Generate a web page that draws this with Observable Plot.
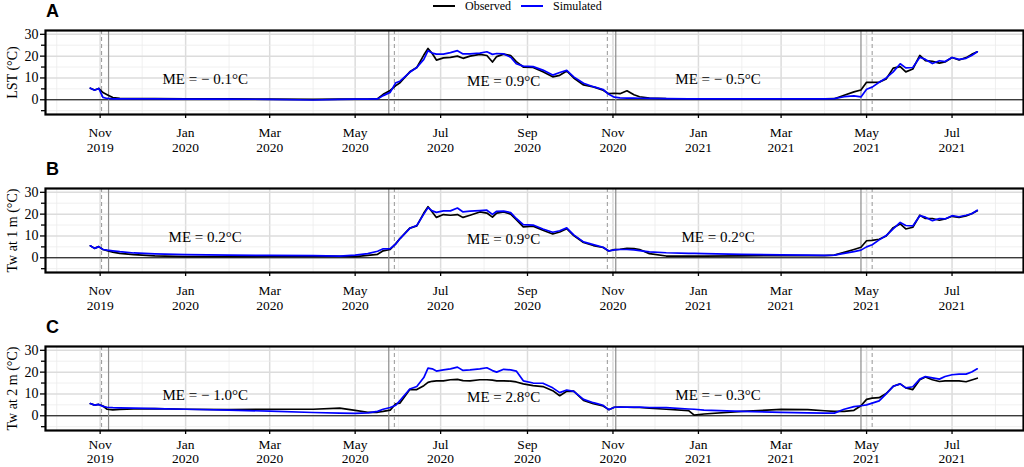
<!DOCTYPE html>
<html><head><meta charset="utf-8">
<script src="https://cdn.jsdelivr.net/npm/d3@7"></script>
<script src="https://cdn.jsdelivr.net/npm/@observablehq/plot@0.6"></script>
<style>
body{margin:0;background:#fff;}
#wrap{position:relative;width:1024px;height:467px;overflow:hidden;font-family:"Liberation Serif","Times New Roman",serif;color:#000;}
.lab{position:absolute;left:46px;font-family:"Liberation Sans",Arial,sans-serif;font-weight:bold;font-size:18px;line-height:18px;}
.panel{position:absolute;left:0;}
.leg{position:absolute;top:0;font-size:12px;line-height:12px;}
.legline{position:absolute;top:5px;height:2px;width:22px;}
</style></head><body><div id="wrap">
<div class="legline" style="left:433px;background:#000"></div>
<div class="leg" style="left:465px">Observed</div>
<div class="legline" style="left:521px;background:#0000ff"></div>
<div class="leg" style="left:553px">Simulated</div>
</div>
<script>
const dates = ["2019-10-25","2019-10-28","2019-10-31","2019-11-03","2019-11-06","2019-11-10","2019-11-15","2019-11-25","2019-12-10","2020-01-01",
"2020-02-01","2020-03-01","2020-04-01","2020-04-20","2020-05-01","2020-05-10","2020-05-17","2020-05-21","2020-05-26","2020-05-30",
"2020-06-02","2020-06-09","2020-06-14","2020-06-19","2020-06-22","2020-06-25","2020-06-28","2020-07-03","2020-07-08","2020-07-13",
"2020-07-17","2020-07-22","2020-07-29","2020-08-03","2020-08-07","2020-08-10","2020-08-15","2020-08-20","2020-08-24","2020-08-29",
"2020-09-05","2020-09-12","2020-09-19","2020-09-24","2020-09-29","2020-10-04","2020-10-11","2020-10-18","2020-10-25","2020-10-29",
"2020-11-02","2020-11-06","2020-11-11","2020-11-16","2020-11-20","2020-11-27","2020-12-09","2020-12-25","2020-12-29","2021-01-05",
"2021-02-01","2021-03-01","2021-03-20","2021-04-01","2021-04-08","2021-04-15","2021-04-22","2021-04-27","2021-05-01","2021-05-05",
"2021-05-10","2021-05-15","2021-05-20","2021-05-25","2021-05-29","2021-06-03","2021-06-08","2021-06-12","2021-06-17","2021-06-22",
"2021-06-26","2021-07-01","2021-07-06","2021-07-11","2021-07-15","2021-07-19"];

const obsA = [5.3,4.5,5.2,3.3,2.3,1.0,0.6,0.5,0.5,0.4, 0.4,0.3,0.2,0.3,0.3,0.3,0.5,2.5,4.3,6.5,
7.8,12.8,14.8,20.5,23.5,21.2,18.2,19.2,19.4,20.0, 19.0,20.0,20.8,20.3,17.3,19.8,20.9,20.3,17.5,15.0,
14.8,12.8,10.5,11.2,13.2,10.0,6.8,5.9,4.4,2.8, 3.0,2.8,4.1,2.3,1.4,0.8,0.5,0.4,0.4,0.4,
0.4,0.4,0.4,0.4,0.5,2.1,3.6,4.5,8.0,8.0, 8.1,9.5,14.5,15.2,12.8,14.1,20.3,17.9,17.6,16.8,
17.3,19.4,18.2,19.3,20.8,22.0];
const simA = [5.3,4.4,5.2,1.1,0.6,0.4,0.4,0.4,0.4,0.3, 0.3,0.2,-0.1,0.2,0.3,0.3,0.4,1.9,3.4,7.8,
8.5,12.6,14.8,18.5,22.5,21.4,20.9,20.9,21.6,22.5, 21.0,21.0,21.4,22.0,20.8,21.2,21.0,19.5,16.5,15.4,
15.2,13.6,11.3,12.5,13.5,10.5,7.6,6.0,4.7,2.5, 1.2,0.9,0.8,0.8,0.7,0.6,0.5,0.4,0.4,0.4,
0.4,0.4,0.4,0.4,0.5,1.4,1.8,1.3,4.8,5.8, 8.0,10.0,12.8,16.5,14.6,14.8,19.5,18.5,16.6,17.9,
17.5,19.4,18.5,19.0,20.3,22.0];
const obsB = [5.5,4.3,5.1,3.8,3.3,2.6,2.0,1.4,0.9,0.5, 0.5,0.6,0.8,0.6,0.5,1.1,1.6,3.2,3.8,6.5,
8.8,13.6,14.6,20.5,23.4,21.0,18.5,19.8,19.5,19.8, 18.5,19.5,21.0,20.5,18.6,20.5,21.0,20.0,17.5,14.2,
14.5,12.6,10.9,11.8,13.3,10.2,7.0,5.6,4.7,3.1, 3.7,3.9,4.3,4.2,3.8,1.9,0.8,0.8,0.8,0.8,
0.9,1.0,1.0,1.0,1.2,2.5,3.8,4.8,7.8,8.0, 8.5,10.0,13.8,15.5,13.2,14.0,19.5,18.0,18.0,17.2,
17.8,19.0,18.5,19.2,20.2,21.5];
const simB = [5.5,4.3,5.1,3.8,3.5,3.2,2.8,2.2,1.8,1.4, 1.2,1.1,1.0,0.8,1.2,1.9,3.0,4.1,4.2,6.3,
8.8,13.5,14.8,20.0,23.0,21.5,20.8,21.5,21.5,22.8, 21.0,21.4,21.6,21.8,19.9,21.3,21.4,20.7,18.0,15.2,
15.0,13.2,11.7,12.4,13.7,10.5,7.3,6.0,4.8,3.1, 3.6,3.8,3.8,3.6,3.3,2.7,2.3,2.0,2.0,1.9,
1.6,1.3,1.2,1.1,1.2,2.0,2.8,3.5,5.0,6.0, 8.2,10.2,13.2,16.2,14.8,14.6,19.3,18.6,17.0,18.0,
17.8,19.3,18.8,19.5,20.2,21.8];
const obsC = [5.6,4.9,5.2,4.5,3.0,2.7,2.9,3.2,3.3,3.0, 2.8,3.0,3.0,3.5,2.5,1.6,1.6,2.0,2.6,5.5,
5.8,12.0,12.0,13.8,15.3,15.8,16.0,16.0,16.5,16.7, 16.1,16.0,16.5,16.5,16.3,16.0,16.0,15.9,15.5,14.6,
13.8,13.4,11.5,9.2,11.2,11.3,7.0,5.5,4.5,2.8, 3.9,4.0,3.9,3.8,3.8,3.5,3.0,2.4,0.3,0.8,
2.0,2.9,2.8,2.3,2.0,2.0,2.5,4.6,7.5,8.1, 8.3,10.2,13.5,14.6,12.8,12.0,16.5,17.8,16.5,15.7,
16.0,16.0,16.0,15.6,16.4,17.2];
const simC = [5.6,4.9,5.2,4.3,3.9,3.7,3.6,3.5,3.3,3.0, 2.6,2.1,1.5,1.2,1.1,1.3,2.0,3.0,3.8,4.8,
7.0,12.3,13.4,17.5,21.8,21.5,20.5,21.0,21.5,22.3, 20.8,21.0,21.5,22.0,20.7,20.0,21.3,21.0,20.5,16.0,
15.0,14.9,12.8,10.6,11.8,11.2,7.5,6.0,4.8,2.8, 3.9,4.0,4.0,4.0,4.0,3.8,3.7,3.1,3.0,2.6,
2.0,1.6,1.3,1.2,1.2,3.0,4.2,4.6,5.0,5.8, 6.8,10.0,13.5,14.6,12.8,13.3,16.8,18.0,17.4,16.8,
18.0,18.8,19.1,19.1,20.1,21.5];

const panelKeys = ["A","B","C"];
const yTitles = ["LST (°C)","Tw at 1 m (°C)","Tw at 2 m (°C)"];
const meLabels = [["ME = − 0.1°C","ME = 0.9°C","ME = − 0.5°C"],
                  ["ME = 0.2°C","ME = 0.9°C","ME = 0.2°C"],
                  ["ME = − 1.0°C","ME = 2.8°C","ME = − 0.3°C"]];
const meDates = ["2020-01-15","2020-08-15","2021-01-15"];
const meY = [9.5, 8.5, 9.5];
const iceSolid = ["2019-11-07","2020-05-25","2020-11-03","2021-04-27"];
const iceDashed = ["2019-11-02","2020-05-29","2020-10-28","2021-05-05"];
const majorTicks = ["2019-11-01","2020-01-01","2020-03-01","2020-05-01","2020-07-01","2020-09-01","2020-11-01","2021-01-01","2021-03-01","2021-05-01","2021-07-01"];
const minorTicks = ["2019-10-01","2019-12-01","2020-02-01","2020-04-01","2020-06-01","2020-08-01","2020-10-01","2020-12-01","2021-02-01","2021-04-01","2021-06-01","2021-08-01"];
const yMajor = [0,10,20,30];
const yMinor = [-5,5,15,25];
const xDomain = ["2019-09-23","2021-08-21"];
const yDomain = [-6.75, 31.75];

const series = [[obsA,simA],[obsB,simB],[obsC,simC]];
const tops = [22, 180, 338];
const heights = [128, 128, 129];
const bottoms = [36, 36, 37];
const pads = [8, 8, 5];
const lineHs = [1.1, 1.1, 1.02];
const labTops = [2, 160, 318];

const wrap = document.getElementById("wrap");
const D = s => new Date(s);
const fmt = d3.utcFormat("%b\n%Y");

panelKeys.forEach((key, p) => {
  const [obs, sim] = series[p];
  const rows = (arr) => dates.map((d,i) => ({date: D(d), v: arr[i]}));
  const me = meLabels[p].map((t,i) => ({date: D(meDates[i]), y: meY[i], t}));
  const chart = Plot.plot({
    width: 1024, height: heights[p],
    marginLeft: 45, marginRight: 1, marginTop: 8, marginBottom: bottoms[p],
    style: {fontFamily: '"Liberation Serif","Times New Roman",serif', background: "transparent", overflow: "visible"},
    x: {type: "utc", domain: xDomain.map(D)},
    y: {domain: yDomain},
    marks: [
      Plot.gridX(minorTicks.map(D), {stroke: "#ececec", strokeOpacity: 1, strokeWidth: 0.8}),
      Plot.gridX(majorTicks.map(D), {stroke: "#dcdcdc", strokeOpacity: 1, strokeWidth: 1.5}),
      Plot.gridY(yMinor, {stroke: "#ececec", strokeOpacity: 1, strokeWidth: 0.8}),
      Plot.gridY(yMajor, {stroke: "#dcdcdc", strokeOpacity: 1, strokeWidth: 1.5}),
      Plot.ruleY([0], {stroke: "black", strokeWidth: 1}),
      Plot.ruleX(iceSolid.map(D), {stroke: "#8c8c8c", strokeWidth: 1.2}),
      Plot.ruleX(iceDashed.map(D), {stroke: "#a0a0a0", strokeWidth: 1.1, strokeDasharray: "4,3"}),
      Plot.line(rows(obs), {x: "date", y: "v", stroke: "black", strokeWidth: 1.7}),
      Plot.line(rows(sim), {x: "date", y: "v", stroke: "#0000ff", strokeWidth: 1.7}),
      Plot.text(me, {x: "date", y: "y", text: "t", fontSize: 15, lineAnchor: "middle", fill: "black"}),
      Plot.frame({stroke: "black", strokeWidth: 2.2}),
      Plot.axisY(yMajor, {tickSize: 5, tickPadding: 2, fontSize: 14, strokeWidth: 1.3,
        label: yTitles[p], labelAnchor: "center", labelArrow: "none", labelOffset: 38}),
      Plot.axisY(yMinor, {tickSize: 4, strokeWidth: 1.3, tickFormat: () => "", label: null}),
      Plot.axisX(majorTicks.map(D), {tickSize: 4, tickPadding: pads[p], strokeWidth: 1.3, fontSize: 13.5,
        lineHeight: lineHs[p], tickFormat: fmt, label: null})
    ]
  });
  chart.classList.add("panel");
  chart.style.top = tops[p] + "px";
  wrap.appendChild(chart);
  const lab = document.createElement("div");
  lab.className = "lab";
  lab.style.top = labTops[p] + "px";
  lab.textContent = key;
  wrap.appendChild(lab);
});
</script>
</body></html>
